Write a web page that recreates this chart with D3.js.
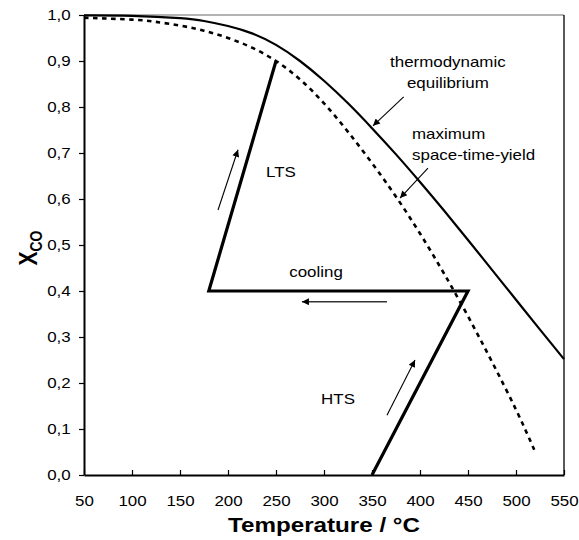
<!DOCTYPE html>
<html><head><meta charset="utf-8">
<script src="https://cdn.jsdelivr.net/npm/d3@7"></script>
<style>
html,body{margin:0;padding:0;background:#fff;}
svg text{font-family:Arial,"Liberation Sans",sans-serif;}
</style></head>
<body>
<svg id="chart" width="579" height="540"></svg>
<script>
// ---- data ----
const tempTicks = [50,100,150,200,250,300,350,400,450,500,550];
const xcoTicks = [0,0.1,0.2,0.3,0.4,0.5,0.6,0.7,0.8,0.9,1.0];

// thermodynamic equilibrium (solid)
const eqT = [50,100,150,175,200,225,250,275,300,325,350,375,400,425,450,475,500,525,550];
const eqX = [0.999,0.998,0.993,0.987,0.976,0.960,0.935,0.900,0.857,0.808,0.754,0.697,0.637,0.575,0.511,0.446,0.381,0.316,0.252];

// maximum space-time-yield (dashed)
const styT = [50,100,125,150,175,200,225,250,275,300,325,350,375,400,425,450,475,500,519];
const styX = [0.994,0.990,0.985,0.977,0.966,0.950,0.929,0.900,0.860,0.808,0.746,0.678,0.605,0.525,0.438,0.345,0.246,0.142,0.055];

// reactor path HTS -> cooling -> LTS
const pathT = [350,450,180,250];
const pathX = [0.0,0.4,0.4,0.9];

// annotation arrows [T0,X0,T1,X1]
const arrowLTS = [189.6,0.576,210.4,0.707];
const arrowCool = [365.6,0.3767,277,0.3767];
const arrowHTS = [365.6,0.130,394.8,0.250];
const arrowEq = [383,0.822,351,0.759];
const arrowSty = [408.3,0.667,379.2,0.602];

// labels
const labelsXY = [
  {t:"thermodynamic", T:429, X:0.887, a:"middle"},
  {t:"equilibrium", T:429, X:0.841, a:"middle"},
  {t:"maximum", T:391.7, X:0.730, a:"start"},
  {t:"space-time-yield", T:391.7, X:0.685, a:"start"},
  {t:"LTS", T:239.6, X:0.648, a:"start"},
  {t:"cooling", T:291.7, X:0.430, a:"middle"},
  {t:"HTS", T:314.6, X:0.154, a:"middle"}
];

// ---- layout ----
const SX = 1.21;
const svg = d3.select("#chart");
const L = 84, T0 = 15, W = 480, H = 460;
const x = d3.scaleLinear().domain([50,550]).range([L, L+W]);
const y = d3.scaleLinear().domain([0,1]).range([T0+H, T0]);

// defs
const defs = svg.append("defs");
defs.append("marker").attr("id","ah").attr("viewBox","0 0 10 10")
  .attr("refX",10).attr("refY",5).attr("markerWidth",9).attr("markerHeight",7)
  .attr("markerUnits","userSpaceOnUse").attr("orient","auto")
  .append("path").attr("d","M0,0L10,5L0,10z").attr("fill","#000");

// frame top/right
svg.append("line").attr("x1",L).attr("x2",L+W).attr("y1",T0).attr("y2",T0)
  .attr("stroke","#666").attr("stroke-width",1);
svg.append("line").attr("x1",L+W).attr("x2",L+W).attr("y1",T0).attr("y2",T0+H)
  .attr("stroke","#000").attr("stroke-width",1.3);

// axes
const fmt = d => d3.format(".1f")(d).replace(".", ",");
const gy = svg.append("g").attr("transform",`translate(${L},0)`)
  .call(d3.axisLeft(y).tickValues(xcoTicks).tickFormat(fmt).tickSizeInner(5).tickSizeOuter(0).tickPadding(6));
const gx = svg.append("g").attr("transform",`translate(0,${T0+H})`)
  .call(d3.axisBottom(x).tickValues(tempTicks).tickFormat(d3.format("d")).tickSizeInner(-5).tickSizeOuter(0).tickPadding(21));
[gy,gx].forEach(g=>{
  g.select(".domain").attr("stroke","#000").attr("stroke-width",2);
  g.selectAll(".tick line").attr("stroke","#000").attr("stroke-width",1.2);
  g.selectAll(".tick text").attr("font-size",14).attr("fill","#000")
    .attr("font-family","Arial,'Liberation Sans',sans-serif");
});
gy.selectAll(".tick text").attr("transform",`scale(${SX},1)`);
gx.selectAll(".tick text").attr("transform",`scale(${SX},1)`);

// curves
const eqData = eqT.map((t,i)=>[t,eqX[i]]);
const styData = styT.map((t,i)=>[t,styX[i]]);
const line = d3.line().x(d=>x(d[0])).y(d=>y(d[1])).curve(d3.curveNatural);
svg.append("path").datum(eqData).attr("d",line).attr("fill","none")
  .attr("stroke","#000").attr("stroke-width",2.2);
svg.append("path").datum(styData).attr("d",line).attr("fill","none")
  .attr("stroke","#000").attr("stroke-width",2.6).attr("stroke-dasharray","4.5,4.5");

// reactor path
const pData = pathT.map((t,i)=>[t,pathX[i]]);
svg.append("path").datum(pData).attr("d",d3.line().x(d=>x(d[0])).y(d=>y(d[1])))
  .attr("fill","none").attr("stroke","#000").attr("stroke-width",3.2)
  .attr("stroke-linejoin","miter");

// arrows
[arrowLTS,arrowCool,arrowHTS,arrowEq,arrowSty].forEach((a,i)=>{
  svg.append("line").attr("x1",x(a[0])).attr("y1",y(a[1])).attr("x2",x(a[2])).attr("y2",y(a[3]))
    .attr("stroke", i===1 ? "#333" : "#000").attr("stroke-width", i===1 ? 1.6 : 1.1)
    .attr("marker-end","url(#ah)");
});

// labels
labelsXY.forEach(l=>{
  svg.append("text").attr("transform",`translate(${x(l.T)},${y(l.X)}) scale(${SX},1)`)
    .attr("text-anchor",l.a).attr("font-size",14).attr("fill","#000").text(l.t);
});

// axis titles
svg.append("text").attr("transform",`translate(${L+W/2},532) scale(${SX},1)`)
  .attr("text-anchor","middle").attr("font-size",20).attr("font-weight","bold").text("Temperature / °C");
const yt = svg.append("text").attr("transform",`translate(37,248) scale(${SX},1) rotate(-90)`)
  .attr("text-anchor","middle").attr("font-weight","bold");
yt.append("tspan").attr("font-size",21).text("X");
yt.append("tspan").attr("font-size",14).attr("dy",4).text("CO");
</script>
</body></html>
